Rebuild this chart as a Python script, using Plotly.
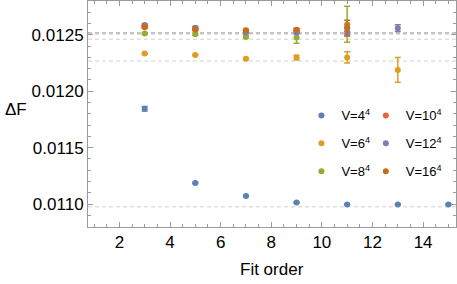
import plotly.graph_objects as go

# ---- data ----
x_v4 = [3, 5, 7, 9, 11, 13, 15]
y_v4 = [0.011845, 0.011188, 0.011071, 0.011015, 0.010997, 0.010997, 0.010997]
e_v4 = [0.00002, 0.000005, 0.000005, 0.000005, 0.000005, 0.000005, 0.000005]

x_v6 = [3, 5, 7, 9, 11, 13]
y_v6 = [0.012335, 0.012321, 0.012288, 0.012300, 0.012300, 0.012189]
e_v6 = [0.000005, 0.000005, 0.000005, 0.00002, 0.00005, 0.00011]

x_v8 = [3, 5, 7, 9, 11]
y_v8 = [0.012511, 0.012506, 0.012480, 0.012476, 0.012594]
e_v8 = [0.000005, 0.00001, 0.00001, 0.00005, 0.00016]

x_v10 = [3, 5, 7, 9, 11]
y_v10 = [0.012568, 0.012547, 0.012535, 0.012544, 0.012562]
e_v10 = [0.00001, 0.00001, 0.00001, 0.00001, 0.00003]

x_v12 = [3, 5, 7, 9, 11, 13]
y_v12 = [0.012588, 0.012564, 0.012520, 0.012520, 0.012512, 0.012559]
e_v12 = [0.00001, 0.00001, 0.00001, 0.00001, 0.00002, 0.00003]

x_v16 = [3, 5, 7, 9, 11]
y_v16 = [0.012573, 0.012550, 0.012540, 0.012546, 0.012560]
e_v16 = [0.00001, 0.00001, 0.00001, 0.00001, 0.00007]

series_names = ["V=4<sup>4</sup>", "V=6<sup>4</sup>", "V=8<sup>4</sup>",
                "V=10<sup>4</sup>", "V=12<sup>4</sup>", "V=16<sup>4</sup>"]
colors = ["#5E81B5", "#E19C24", "#8FB032", "#EB6235", "#8778B3", "#C56E1A"]

ref_thick = [0.012515]
ref_thin = [0.012462, 0.012268, 0.010976]

x_range = [0.76, 15.3]
y_range = [0.010797, 0.0128]

series = [(x_v4, y_v4, e_v4), (x_v6, y_v6, e_v6), (x_v8, y_v8, e_v8),
          (x_v10, y_v10, e_v10), (x_v12, y_v12, e_v12), (x_v16, y_v16, e_v16)]

FONT = "Liberation Sans, Arial, sans-serif"
fig = go.Figure()

for i, ((xs, ys, es), name, c) in enumerate(zip(series, series_names, colors)):
    fig.add_trace(go.Scatter(
        x=xs, y=ys, mode="markers", name=name,
        marker=dict(color=c, size=6),
        error_y=dict(type="data", array=es, color=c, thickness=1.5, width=3),
        legend="legend" if i < 3 else "legend2",
        legendgroup=f"g{i}",
    ))

shapes = []
for y in ref_thick:
    shapes.append(dict(type="line", xref="paper", x0=0, x1=1, yref="y", y0=y, y1=y,
                       line=dict(color="#c4c4c4", width=2.5, dash="4px,3px"), layer="below"))
for y in ref_thin:
    shapes.append(dict(type="line", xref="paper", x0=0, x1=1, yref="y", y0=y, y1=y,
                       line=dict(color="#d0d0d0", width=1, dash="4px,3px"), layer="below"))

axis_common = dict(
    showline=True, linecolor="#9a9a9a", linewidth=1, mirror="allticks",
    ticks="inside", tickcolor="#9a9a9a", ticklen=5, tickwidth=1,
    showgrid=False, zeroline=False,
    tickfont=dict(family=FONT, size=17, color="black"),
)

fig.update_layout(
    width=457, height=284,
    margin=dict(l=88, r=1, t=1, b=57),
    paper_bgcolor="white", plot_bgcolor="white",
    shapes=shapes,
    xaxis=dict(range=x_range, tick0=0, dtick=2,
               minor=dict(dtick=0.5, ticklen=3, tickcolor="#9a9a9a", ticks="inside"),
               **axis_common),
    yaxis=dict(range=y_range, tick0=0, dtick=0.0005, tickformat=".4f",
               minor=dict(dtick=0.0001, ticklen=3, tickcolor="#9a9a9a", ticks="inside"),
               **axis_common),
    legend=dict(x=0.58, y=0.56, xanchor="left", yanchor="top",
                font=dict(family=FONT, size=13, color="black"),
                bgcolor="rgba(0,0,0,0)", tracegroupgap=8),
    legend2=dict(x=0.755, y=0.56, xanchor="left", yanchor="top",
                 font=dict(family=FONT, size=13, color="black"),
                 bgcolor="rgba(0,0,0,0)", tracegroupgap=8),
    annotations=[
        dict(text="ΔF", xref="paper", yref="paper", x=-0.231, y=0.518,
             xanchor="left", yanchor="middle", showarrow=False,
             font=dict(family=FONT, size=17, color="black")),
        dict(text="Fit order", xref="paper", yref="paper", x=0.5, y=-0.19,
             xanchor="center", yanchor="middle", showarrow=False,
             font=dict(family=FONT, size=17, color="black")),
    ],
)

fig.write_html("out.html", config={"displayModeBar": False},
               post_script="document.body.style.margin='0';document.body.style.padding='0';")
